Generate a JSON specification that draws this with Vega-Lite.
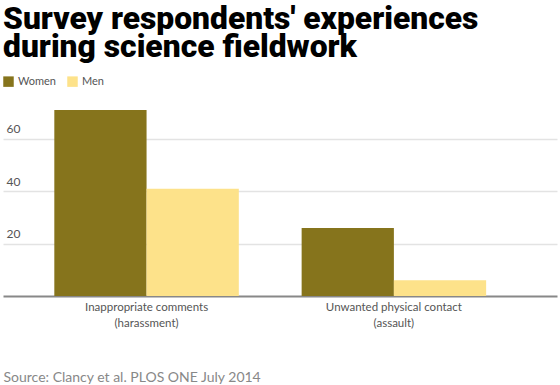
{
  "$schema": "https://vega.github.io/schema/vega-lite/v6.json",
  "width": 554,
  "height": 199,
  "padding": {"left": 3, "top": 4, "right": 3, "bottom": 0},
  "background": "white",
  "title": {
    "text": ["Survey respondents' experiences", "during science fieldwork"],
    "font": "Roboto",
    "fontWeight": 900,
    "fontSize": 31.8,
    "lineHeight": 28,
    "color": "#000000",
    "anchor": "start",
    "frame": "group",
    "offset": 12
  },
  "data": {
    "values": [
      {"category": "Inappropriate comments (harassment)", "gender": "Women", "percent": 71},
      {"category": "Inappropriate comments (harassment)", "gender": "Men", "percent": 41},
      {"category": "Unwanted physical contact (assault)", "gender": "Women", "percent": 26},
      {"category": "Unwanted physical contact (assault)", "gender": "Men", "percent": 6}
    ]
  },
  "mark": {"type": "bar"},
  "encoding": {
    "x": {
      "field": "category",
      "type": "nominal",
      "sort": null,
      "scale": {"paddingInner": 0.254, "paddingOuter": 0.247, "align": 0.42},
      "axis": {
        "labelAngle": 0,
        "labelExpr": "[slice(datum.label,0,indexof(datum.label,' (')), slice(datum.label,indexof(datum.label,' (')+1)]",
        "labelFont": "Lato",
        "labelFontSize": 11.5,
        "labelColor": "#555555",
        "labelLineHeight": 16,
        "labelPadding": 5,
        "ticks": false,
        "domainColor": "#888888",
        "domainWidth": 2,
        "title": "Source: Clancy et al. PLOS ONE July 2014",
        "titleFont": "Lato",
        "titleFontSize": 14,
        "titleFontWeight": "normal",
        "titleColor": "#888888",
        "titleAnchor": "start",
        "titleAlign": "left",
        "titleBaseline": "alphabetic",
        "titleX": 0,
        "titleY": 85
      }
    },
    "xOffset": {"field": "gender", "type": "nominal", "sort": ["Women", "Men"], "scale": {"paddingInner": 0, "paddingOuter": 0}},
    "y": {
      "field": "percent",
      "type": "quantitative",
      "scale": {"domain": [0, 76], "nice": false},
      "axis": {
        "values": [20, 40, 60],
        "title": null,
        "domain": false,
        "ticks": false,
        "gridColor": "#e3e3e3",
        "gridWidth": 1.5,
        "labelAlign": "left",
        "labelBaseline": "bottom",
        "labelPadding": -3,
        "labelOffset": -3,
        "labelFont": "Lato",
        "labelFontSize": 12,
        "labelColor": "#555555"
      }
    },
    "color": {
      "field": "gender",
      "type": "nominal",
      "sort": ["Women", "Men"],
      "scale": {"domain": ["Women", "Men"], "range": ["#86741c", "#fde28a"]},
      "legend": {
        "orient": "top",
        "direction": "horizontal",
        "title": null,
        "symbolType": "square",
        "symbolSize": 110,
        "symbolStrokeWidth": 0,
        "labelFont": "Lato",
        "labelFontSize": 11,
        "labelColor": "#555555",
        "labelOffset": 4,
        "columnPadding": 10,
        "offset": 10
      }
    }
  },
  "config": {"view": {"stroke": null}}
}
